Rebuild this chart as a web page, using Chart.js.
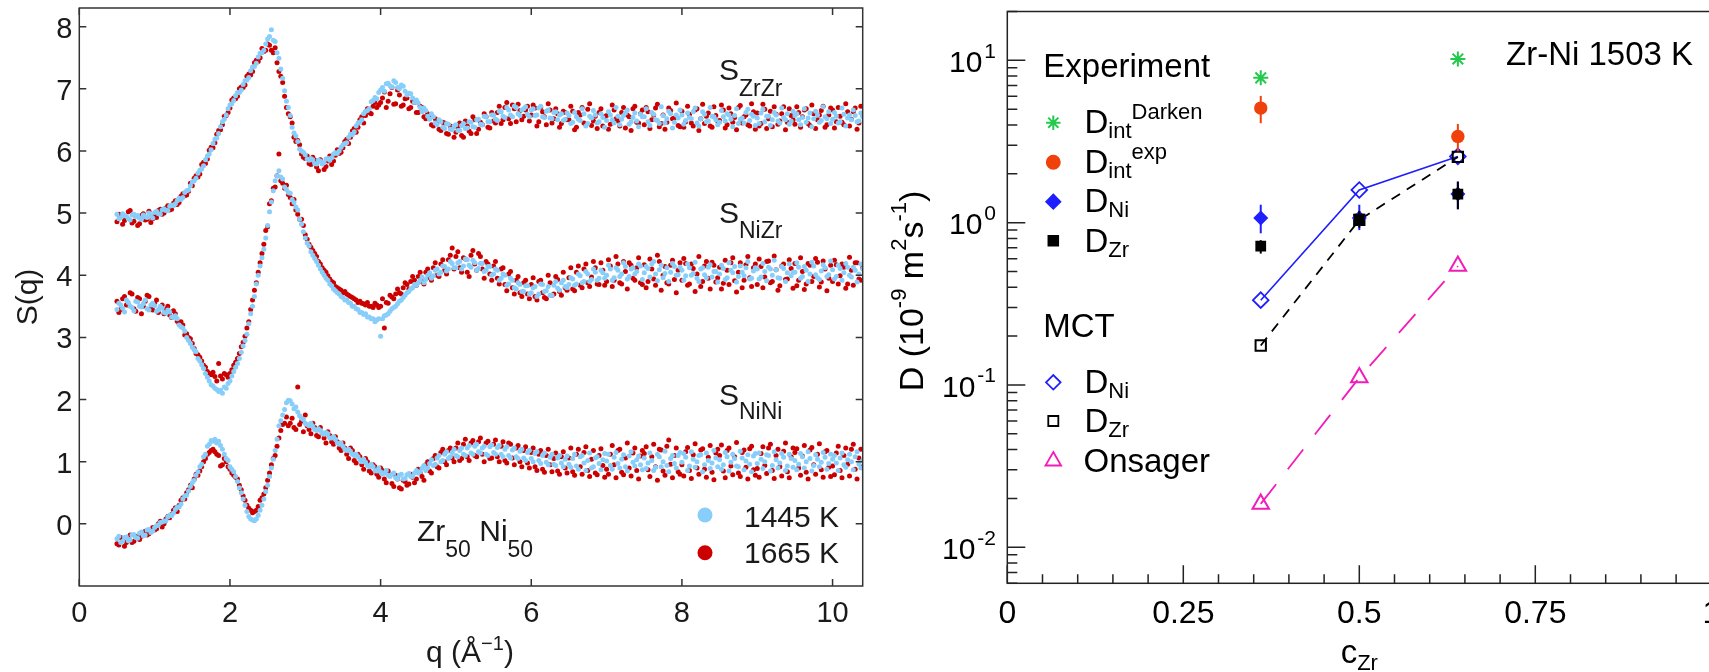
<!DOCTYPE html>
<html>
<head>
<meta charset="utf-8">
<script src="https://cdn.jsdelivr.net/npm/chart.js@4.4.1/dist/chart.umd.min.js"></script>
<style>
  html, body { margin: 0; padding: 0; background: #fff; overflow: hidden; }
  #sq { position: absolute; left: 0; top: 0; }
  #diff { position: absolute; left: 880px; top: 0; }
</style>
</head>
<body>
<canvas id="sq" width="880" height="672"></canvas>
<canvas id="diff" width="860" height="672"></canvas>
<script>
const FONT = '"Liberation Sans", Arial, Helvetica, sans-serif';

// ---- left panel: partial structure factors of Zr50Ni50 ----
// two interleaved q grids (1/Å)
const qValues = [
  0.5,0.55,0.6,0.65,0.7,0.75,0.8,0.85,0.9,0.95,
  1,1.05,1.1,1.15,1.2,1.25,1.3,1.35,1.4,1.45,
  1.5,1.55,1.6,1.65,1.7,1.75,1.8,1.85,1.9,1.95,
  2,2.05,2.1,2.15,2.2,2.25,2.3,2.35,2.4,2.45,
  2.5,2.55,2.6,2.65,2.7,2.75,2.8,2.85,2.9,2.95,
  3,3.05,3.1,3.15,3.2,3.25,3.3,3.35,3.4,3.45,
  3.5,3.55,3.6,3.65,3.7,3.75,3.8,3.85,3.9,3.95,
  4,4.05,4.1,4.15,4.2,4.25,4.3,4.35,4.4,4.45,
  4.5,4.55,4.6,4.65,4.7,4.75,4.8,4.85,4.9,4.95,
  5,5.05,5.1,5.15,5.2,5.25,5.3,5.35,5.4,5.45,
  5.5,5.55,5.6,5.65,5.7,5.75,5.8,5.85,5.9,5.95,
  6,6.05,6.1,6.15,6.2,6.25,6.3,6.35,6.4,6.45,
  6.5,6.55,6.6,6.65,6.7,6.75,6.8,6.85,6.9,6.95,
  7,7.05,7.1,7.15,7.2,7.25,7.3,7.35,7.4,7.45,
  7.5,7.55,7.6,7.65,7.7,7.75,7.8,7.85,7.9,7.95,
  8,8.05,8.1,8.15,8.2,8.25,8.3,8.35,8.4,8.45,
  8.5,8.55,8.6,8.65,8.7,8.75,8.8,8.85,8.9,8.95,
  9,9.05,9.1,9.15,9.2,9.25,9.3,9.35,9.4,9.45,
  9.5,9.55,9.6,9.65,9.7,9.75,9.8,9.85,9.9,9.95,
  10,10.05,10.1,10.15,10.2,10.25,10.3,10.35,10.4
];
const qMid = [
  0.525,0.575,0.625,0.675,0.725,0.775,0.825,0.875,0.925,0.975,
  1.025,1.075,1.125,1.175,1.225,1.275,1.325,1.375,1.425,1.475,
  1.525,1.575,1.625,1.675,1.725,1.775,1.825,1.875,1.925,1.975,
  2.025,2.075,2.125,2.175,2.225,2.275,2.325,2.375,2.425,2.475,
  2.525,2.575,2.625,2.675,2.725,2.775,2.825,2.875,2.925,2.975,
  3.025,3.075,3.125,3.175,3.225,3.275,3.325,3.375,3.425,3.475,
  3.525,3.575,3.625,3.675,3.725,3.775,3.825,3.875,3.925,3.975,
  4.025,4.075,4.125,4.175,4.225,4.275,4.325,4.375,4.425,4.475,
  4.525,4.575,4.625,4.675,4.725,4.775,4.825,4.875,4.925,4.975,
  5.025,5.075,5.125,5.175,5.225,5.275,5.325,5.375,5.425,5.475,
  5.525,5.575,5.625,5.675,5.725,5.775,5.825,5.875,5.925,5.975,
  6.025,6.075,6.125,6.175,6.225,6.275,6.325,6.375,6.425,6.475,
  6.525,6.575,6.625,6.675,6.725,6.775,6.825,6.875,6.925,6.975,
  7.025,7.075,7.125,7.175,7.225,7.275,7.325,7.375,7.425,7.475,
  7.525,7.575,7.625,7.675,7.725,7.775,7.825,7.875,7.925,7.975,
  8.025,8.075,8.125,8.175,8.225,8.275,8.325,8.375,8.425,8.475,
  8.525,8.575,8.625,8.675,8.725,8.775,8.825,8.875,8.925,8.975,
  9.025,9.075,9.125,9.175,9.225,9.275,9.325,9.375,9.425,9.475,
  9.525,9.575,9.625,9.675,9.725,9.775,9.825,9.875,9.925,9.975,
  10.025,10.075,10.125,10.175,10.225,10.275,10.325,10.375
];

const sZrZr1445 = [
  4.98,4.93,4.96,4.91,4.97,4.94,4.92,4.97,4.93,4.96,
  5.01,4.99,5.05,5.04,5.11,5.12,5.20,5.22,5.33,5.37,
  5.50,5.56,5.69,5.76,5.92,6.02,6.19,6.28,6.47,6.58,
  6.74,6.81,6.94,6.98,7.13,7.18,7.35,7.41,7.57,7.62,
  7.80,7.95,7.76,7.49,7.17,6.80,6.57,6.29,6.15,6.00,
  5.94,5.85,5.86,5.79,5.84,5.81,5.88,5.89,5.97,6.00,
  6.10,6.13,6.27,6.31,6.45,6.50,6.64,6.68,6.81,6.84,
  6.98,6.96,7.09,7.03,7.10,7.00,7.04,6.90,6.92,6.78,
  6.77,6.63,6.65,6.51,6.55,6.42,6.47,6.36,6.43,6.34,
  6.42,6.33,6.44,6.37,6.46,6.38,6.51,6.42,6.55,6.47,
  6.58,6.49,6.63,6.54,6.66,6.55,6.70,6.57,6.68,6.59,
  6.66,6.57,6.69,6.55,6.64,6.53,6.62,6.50,6.60,6.51,
  6.57,6.46,6.55,6.49,6.60,6.44,6.53,6.58,6.47,6.54,
  6.49,6.58,6.45,6.56,6.51,6.61,6.43,6.54,6.48,6.59,
  6.55,6.47,6.62,6.50,6.44,6.57,6.52,6.60,6.46,6.53,
  6.58,6.49,6.54,6.63,6.45,6.52,6.59,6.48,6.56,6.50,
  6.46,6.55,6.60,6.51,6.57,6.44,6.53,6.62,6.49,6.56,
  6.53,6.61,6.47,6.56,6.50,6.58,6.45,6.54,6.60,6.48,
  6.57,6.50,6.54,6.46,6.61,6.52,6.58,6.49,6.55,6.63,
  6.51,6.56,6.47,6.59,6.53,6.50,6.57,6.48,6.55
];
const sZrZr1445Mid = [
  4.91,4.99,4.95,4.89,4.98,4.96,4.90,4.94,5.00,4.92,
  5.03,4.98,5.07,5.04,5.13,5.15,5.24,5.25,5.36,5.44,
  5.52,5.64,5.71,5.86,5.95,6.12,6.21,6.39,6.51,6.68,
  6.76,6.89,6.94,7.07,7.14,7.29,7.36,7.51,7.58,7.72,
  7.84,7.78,7.58,7.32,6.97,6.70,6.38,6.24,6.03,5.98,
  5.87,5.88,5.80,5.85,5.79,5.87,5.85,5.95,5.96,6.06,
  6.12,6.22,6.26,6.40,6.46,6.60,6.65,6.79,6.86,6.94,
  7.02,7.08,7.05,7.13,7.02,7.06,6.96,6.93,6.85,6.82,
  6.70,6.69,6.56,6.60,6.45,6.50,6.38,6.44,6.35,6.40,
  6.33,6.41,6.36,6.47,6.39,6.50,6.43,6.56,6.47,6.58,
  6.51,6.64,6.56,6.70,6.58,6.72,6.60,6.66,6.71,6.55,
  6.68,6.58,6.72,6.54,6.66,6.52,6.63,6.58,6.49,6.61,
  6.44,6.62,6.51,6.68,6.40,6.56,6.65,6.45,6.60,6.38,
  6.63,6.50,6.70,6.42,6.57,6.66,6.47,6.61,6.39,6.55,
  6.68,6.41,6.59,6.49,6.71,6.45,6.64,6.37,6.58,6.66,
  6.43,6.61,6.52,6.69,6.40,6.63,6.47,6.70,6.55,6.42,
  6.65,6.48,6.58,6.39,6.68,6.51,6.45,6.67,6.59,6.41,
  6.44,6.67,6.56,6.41,6.62,6.48,6.69,6.50,6.43,6.64,
  6.60,6.42,6.68,6.53,6.39,6.64,6.46,6.71,6.52,6.44,
  6.62,6.45,6.69,6.40,6.58,6.66,6.47,6.61
];
const sZrZr1665 = [
  4.86,4.97,4.88,5.02,4.84,4.95,4.83,4.99,4.90,4.85,
  4.96,5.04,4.98,5.08,5.05,5.16,5.14,5.27,5.28,5.35,
  5.44,5.60,5.63,5.82,5.87,6.06,6.13,6.33,6.42,6.57,
  6.69,6.85,6.88,7.03,7.06,7.24,7.28,7.46,7.50,7.60,
  7.72,7.62,7.66,7.28,7.10,6.70,6.55,6.22,6.17,5.95,
  5.88,5.80,5.90,5.74,5.86,5.70,5.84,5.78,5.93,5.96,
  6.05,6.19,6.22,6.36,6.38,6.55,6.57,6.62,6.72,6.70,
  6.78,6.95,6.80,7.02,6.76,6.90,6.74,6.85,6.70,6.78,
  6.62,6.70,6.52,6.58,6.40,6.49,6.33,6.45,6.27,6.38,
  6.30,6.45,6.22,6.40,6.28,6.50,6.35,6.42,6.55,6.37,
  6.48,6.62,6.44,6.70,6.52,6.74,6.47,6.65,6.56,6.72,
  6.58,6.69,6.47,6.63,6.42,6.66,6.52,6.60,6.44,6.62,
  6.50,6.64,6.38,6.58,6.45,6.67,6.41,6.56,6.62,6.40,
  6.57,6.43,6.66,6.48,6.62,6.37,6.55,6.68,6.46,6.60,
  6.42,6.63,6.50,6.69,6.39,6.58,6.46,6.65,6.53,6.41,
  6.64,6.47,6.59,6.40,6.68,6.52,6.44,6.61,6.38,6.57,
  6.49,6.66,6.42,6.60,6.54,6.70,6.45,6.58,6.40,6.63,
  6.61,6.44,6.67,6.52,6.39,6.59,6.48,6.71,6.46,6.57,
  6.43,6.62,6.55,6.68,6.41,6.60,6.50,6.65,6.38,6.58,
  6.66,6.47,6.56,6.42,6.63,6.51,6.69,6.45,6.59
];
const sZrZr1665Mid = [
  4.98,4.82,4.93,5.04,4.87,4.80,4.96,4.89,5.03,4.91,
  4.93,5.06,5.00,5.12,5.06,5.20,5.17,5.31,5.29,5.48,
  5.56,5.58,5.78,5.80,6.01,6.05,6.27,6.34,6.56,6.62,
  6.82,6.84,7.00,7.02,7.20,7.22,7.42,7.44,7.65,7.62,
  7.70,7.58,7.42,7.20,6.88,6.60,6.45,6.15,6.10,5.90,
  5.92,5.78,5.85,5.68,5.80,5.75,5.92,5.84,6.02,5.98,
  6.15,6.12,6.32,6.30,6.50,6.45,6.68,6.60,6.78,6.74,
  6.85,6.70,6.92,6.75,6.98,6.72,6.84,6.68,6.80,6.62,
  6.72,6.55,6.60,6.42,6.52,6.35,6.46,6.28,6.40,6.22,
  6.38,6.25,6.48,6.32,6.55,6.28,6.46,6.60,6.38,6.62,
  6.45,6.72,6.50,6.78,6.44,6.68,6.75,6.50,6.66,6.48,
  6.74,6.40,6.70,6.55,6.76,6.45,6.68,6.38,6.64,6.50,
  6.72,6.34,6.62,6.70,6.42,6.76,6.48,6.36,6.68,6.55,
  6.35,6.74,6.52,6.40,6.70,6.58,6.33,6.72,6.45,6.66,
  6.70,6.36,6.58,6.75,6.44,6.35,6.69,6.52,6.77,6.39,
  6.38,6.72,6.45,6.66,6.33,6.75,6.56,6.40,6.71,6.48,
  6.74,6.37,6.69,6.46,6.34,6.73,6.55,6.42,6.76,6.35,
  6.40,6.75,6.36,6.64,6.71,6.43,6.60,6.34,6.68,6.50,
  6.71,6.38,6.66,6.44,6.74,6.36,6.58,6.72,6.42,6.69,
  6.37,6.70,6.46,6.76,6.40,6.63,6.35,6.72
];
const sNiZr1445 = [
  3.45,3.52,3.41,3.56,3.48,3.58,3.50,3.54,3.46,3.52,
  3.51,3.44,3.47,3.39,3.41,3.32,3.30,3.17,3.10,2.95,
  2.84,2.77,2.62,2.50,2.36,2.24,2.18,2.13,2.10,2.18,
  2.30,2.45,2.58,2.76,2.95,3.22,3.50,3.86,4.15,4.42,
  4.80,5.18,5.52,5.68,5.55,5.38,5.32,5.17,5.05,4.82,
  4.60,4.47,4.32,4.22,4.10,4.00,3.92,3.83,3.75,3.70,
  3.64,3.60,3.55,3.50,3.45,3.40,3.38,3.33,3.30,3.28,
  3.02,3.35,3.38,3.46,3.50,3.58,3.64,3.72,3.78,3.85,
  3.88,3.97,3.93,4.04,3.99,4.10,4.05,4.14,4.10,4.19,
  4.12,4.22,4.15,4.25,4.13,4.20,4.11,4.19,4.08,4.14,
  4.02,4.08,3.95,4.00,3.86,3.92,3.78,3.85,3.74,3.83,
  3.72,3.82,3.70,3.85,3.75,3.68,3.84,3.79,3.88,3.82,
  3.85,3.94,3.86,3.99,3.90,4.02,3.93,4.05,3.95,4.04,
  4.00,4.10,3.96,4.08,4.02,4.14,3.98,4.12,4.06,4.15,
  4.04,4.11,4.18,4.02,4.09,3.96,4.12,4.05,4.14,4.01,
  4.08,3.99,4.12,4.03,3.95,4.10,4.01,4.13,3.97,4.06,
  4.02,4.11,3.96,4.08,4.14,3.98,4.05,4.12,3.94,4.07,
  4.10,3.97,4.06,4.13,4.00,4.09,3.95,4.11,4.04,3.99,
  4.05,4.13,3.98,4.08,4.02,4.15,3.96,4.07,4.12,4.01,
  4.09,3.98,4.11,4.04,4.13,3.97,4.08,4.02,4.10
];
const sNiZr1445Mid = [
  3.55,3.47,3.60,3.50,3.43,3.57,3.49,3.60,3.44,3.55,
  3.42,3.50,3.40,3.44,3.33,3.35,3.20,3.15,3.00,2.90,
  2.80,2.66,2.56,2.42,2.30,2.22,2.16,2.15,2.20,2.26,
  2.38,2.52,2.66,2.86,3.05,3.38,3.66,4.00,4.28,4.60,
  5.02,5.36,5.60,5.58,5.42,5.33,5.22,5.10,4.90,4.70,
  4.52,4.38,4.27,4.16,4.05,3.95,3.86,3.78,3.72,3.66,
  3.60,3.56,3.50,3.46,3.40,3.37,3.33,3.30,3.25,3.30,
  3.30,3.36,3.42,3.48,3.54,3.60,3.68,3.74,3.80,3.84,
  3.92,3.88,4.00,3.95,4.08,4.02,4.15,4.07,4.22,4.12,
  4.20,4.10,4.26,4.16,4.24,4.08,4.19,4.06,4.14,4.00,
  4.10,3.92,4.02,3.84,3.95,3.80,3.88,3.74,3.83,3.70,
  3.80,3.66,3.86,3.74,3.82,3.68,3.90,3.76,3.92,3.80,
  3.96,3.84,4.02,3.88,4.06,3.90,4.10,3.92,4.08,3.95,
  4.16,3.92,4.12,3.98,4.20,3.94,4.10,4.02,4.18,3.93,
  4.14,3.97,4.22,3.91,4.16,4.03,3.90,4.19,4.00,4.13,
  3.92,4.18,4.00,4.21,3.90,4.12,3.96,4.17,4.06,3.89,
  4.16,3.93,4.20,4.04,3.89,4.15,3.99,4.22,3.95,4.12,
  3.94,4.19,3.91,4.10,4.24,3.96,4.14,3.90,4.18,4.05,
  4.20,3.95,4.14,3.90,4.21,4.01,3.93,4.17,3.98,4.23,
  3.94,4.16,3.92,4.19,4.00,4.13,3.89,4.18
];
const sNiZr1665 = [
  3.58,3.45,3.66,3.52,3.70,3.42,3.62,3.50,3.68,3.47,
  3.55,3.40,3.52,3.45,3.36,3.43,3.26,3.25,3.04,3.00,
  2.90,2.74,2.68,2.55,2.45,2.40,2.37,2.58,2.33,2.40,
  2.42,2.55,2.66,2.85,3.02,3.25,3.60,3.88,4.20,4.50,
  4.78,5.20,5.42,5.95,5.48,5.45,5.25,5.22,4.98,4.90,
  4.65,4.50,4.40,4.30,4.18,4.08,3.99,3.90,3.82,3.78,
  3.72,3.70,3.66,3.62,3.56,3.55,3.52,3.50,3.48,3.52,
  3.50,3.15,3.55,3.65,3.70,3.72,3.80,3.85,3.90,3.92,
  3.98,3.90,4.05,3.96,4.12,4.00,4.18,4.08,4.25,4.44,
  4.30,4.12,4.28,4.05,4.32,4.18,4.35,4.10,4.22,4.02,
  4.15,3.95,4.10,3.85,4.02,3.80,3.92,3.72,3.88,3.70,
  3.85,3.66,3.90,3.72,3.62,3.88,3.70,3.93,3.68,3.80,
  3.96,3.78,4.05,3.84,4.10,3.88,3.97,4.12,3.85,4.08,
  3.90,4.15,3.92,4.18,3.86,4.06,4.20,3.95,4.12,3.88,
  4.17,3.90,4.10,3.84,4.22,4.00,3.88,4.16,3.93,4.08,
  3.92,4.19,3.86,4.11,4.02,3.82,4.15,3.95,4.21,3.89,
  4.13,3.87,4.08,4.20,3.91,4.05,3.80,4.17,3.96,4.12,
  3.85,4.14,3.97,4.23,3.90,4.09,3.83,4.18,3.94,4.11,
  4.19,3.92,4.06,3.86,4.16,3.98,4.21,3.89,4.10,3.95,
  3.90,4.17,3.99,4.13,3.86,4.08,4.20,3.94,4.12
];
const sNiZr1665Mid = [
  3.40,3.62,3.52,3.72,3.46,3.64,3.38,3.58,3.66,3.44,
  3.60,3.48,3.38,3.50,3.32,3.38,3.22,3.20,3.06,2.98,
  2.82,2.72,2.62,2.52,2.42,2.44,2.30,2.38,2.42,2.36,
  2.48,2.60,2.74,2.92,3.15,3.45,3.76,4.05,4.35,4.72,
  5.15,5.40,5.60,5.52,5.40,5.30,5.15,5.05,4.90,4.80,
  4.58,4.45,4.35,4.22,4.12,4.05,3.94,3.88,3.80,3.76,
  3.74,3.68,3.64,3.60,3.58,3.54,3.56,3.50,3.55,3.48,
  3.62,3.56,3.68,3.62,3.78,3.70,3.88,3.78,3.98,3.84,
  4.05,3.86,4.10,3.92,4.20,3.98,4.25,4.02,4.32,4.10,
  4.38,4.05,4.26,3.98,4.40,4.08,4.30,3.95,4.18,3.92,
  4.22,3.86,4.12,3.75,4.06,3.70,3.98,3.66,3.92,3.62,
  3.96,3.60,3.92,3.64,4.00,3.68,3.98,3.74,4.05,3.76,
  4.12,3.75,4.15,3.80,4.18,3.82,4.22,3.86,4.20,3.84,
  4.25,3.82,4.30,3.88,4.22,3.78,4.16,3.92,4.28,3.85,
  3.80,4.26,3.94,4.32,3.76,4.14,3.86,4.24,3.72,4.20,
  4.27,3.84,4.18,3.74,4.30,3.90,4.22,3.78,4.16,3.96,
  3.78,4.24,3.85,4.28,3.73,4.20,3.92,4.30,3.82,4.18,
  4.26,3.80,4.22,3.88,4.31,3.76,4.15,3.93,4.25,3.79,
  3.83,4.28,3.77,4.19,3.90,4.27,3.81,4.23,3.75,4.16,
  4.24,3.86,4.18,3.79,4.29,3.84,4.20,3.92
];
const sNiNi1445 = [
  -0.24,-0.30,-0.22,-0.27,-0.18,-0.22,-0.15,-0.19,-0.10,-0.14,
  -0.06,-0.02,0.03,0.05,0.14,0.17,0.27,0.32,0.45,0.53,
  0.66,0.78,0.92,1.08,1.25,1.34,1.36,1.33,1.20,1.05,
  0.92,0.84,0.68,0.50,0.30,0.12,0.06,0.08,0.22,0.40,
  0.62,0.90,1.18,1.58,1.75,1.95,1.98,1.85,1.80,1.70,
  1.62,1.58,1.57,1.50,1.50,1.44,1.45,1.38,1.36,1.28,
  1.25,1.18,1.17,1.10,1.08,1.00,0.99,0.92,0.92,0.85,
  0.84,0.82,0.78,0.80,0.74,0.78,0.72,0.79,0.76,0.82,
  0.82,0.90,0.86,0.97,0.94,1.06,1.00,1.12,1.05,1.15,
  1.10,1.18,1.12,1.22,1.14,1.25,1.16,1.22,1.12,1.24,
  1.15,1.23,1.12,1.20,1.10,1.19,1.08,1.17,1.06,1.15,
  1.05,1.13,1.02,1.10,0.99,1.07,0.96,1.06,0.98,1.04,
  0.96,1.05,0.93,1.08,0.98,1.02,0.90,1.06,0.97,1.03,
  1.01,0.94,1.07,0.97,1.04,0.92,1.09,0.99,1.03,0.95,
  1.06,0.98,1.02,0.91,1.08,1.00,0.94,1.05,0.97,1.10,
  0.99,1.07,0.93,1.04,1.00,1.11,0.95,1.02,0.98,1.06,
  1.03,0.95,1.08,0.99,1.05,0.92,1.06,1.01,0.96,1.09,
  0.97,1.04,1.00,1.10,0.94,1.03,0.98,1.07,0.93,1.05,
  1.02,0.96,1.08,1.00,1.05,0.94,1.04,0.99,1.07,0.97,
  1.04,0.98,1.06,0.95,1.03,1.00,1.08,0.96,1.02
];
const sNiNi1445Mid = [
  -0.20,-0.28,-0.21,-0.26,-0.17,-0.23,-0.13,-0.18,-0.09,-0.12,
  -0.03,0.02,0.04,0.11,0.13,0.23,0.27,0.40,0.46,0.60,
  0.70,0.84,0.96,1.12,1.28,1.33,1.30,1.26,1.12,1.02,
  0.88,0.76,0.58,0.40,0.20,0.08,0.05,0.14,0.30,0.52,
  0.76,1.04,1.36,1.66,1.84,1.99,1.93,1.88,1.74,1.68,
  1.60,1.62,1.52,1.53,1.46,1.47,1.38,1.40,1.30,1.30,
  1.20,1.20,1.12,1.12,1.03,1.04,0.94,0.96,0.86,0.90,
  0.80,0.86,0.76,0.82,0.72,0.80,0.73,0.81,0.76,0.86,
  0.84,0.94,0.90,1.03,0.96,1.10,1.02,1.16,1.08,1.20,
  1.08,1.22,1.10,1.26,1.12,1.28,1.14,1.25,1.10,1.27,
  1.12,1.26,1.08,1.24,1.06,1.22,1.05,1.20,1.02,1.18,
  1.00,1.16,0.97,1.14,0.95,1.12,0.94,1.10,0.92,1.09,
  0.91,1.12,0.88,1.10,0.86,1.14,0.92,1.08,0.87,1.13,
  1.12,0.88,1.15,0.90,1.11,0.85,1.16,0.93,1.09,0.87,
  0.89,1.14,0.86,1.12,0.92,1.17,0.84,1.10,0.90,1.15,
  1.13,0.86,1.16,0.91,1.10,0.84,1.14,0.89,1.18,0.92,
  0.88,1.15,0.85,1.12,0.93,1.17,0.87,1.11,0.84,1.13,
  1.14,0.89,1.11,0.85,1.16,0.90,1.13,0.86,1.12,0.91,
  0.87,1.13,0.90,1.16,0.85,1.11,0.92,1.15,0.88,1.12,
  1.10,0.86,1.14,0.91,1.12,0.87,1.16,0.90
];
const sNiNi1665 = [
  -0.32,-0.22,-0.36,-0.26,-0.30,-0.20,-0.25,-0.16,-0.18,-0.12,
  -0.10,0.00,-0.05,0.08,0.10,0.22,0.20,0.38,0.40,0.55,
  0.58,0.80,0.85,1.00,1.12,1.18,1.16,1.10,0.95,1.00,
  0.88,0.78,0.72,0.55,0.38,0.25,0.18,0.22,0.38,0.48,
  0.70,0.95,1.10,1.38,1.60,1.72,1.62,1.55,2.20,1.65,
  1.75,1.52,1.62,1.42,1.55,1.38,1.48,1.32,1.40,1.22,
  1.30,1.12,1.22,1.02,1.12,0.95,1.05,0.85,0.95,0.80,
  0.90,0.72,0.85,0.65,0.78,0.58,0.70,0.62,0.80,0.66,
  0.88,0.76,0.95,0.85,1.05,0.92,1.15,1.00,1.18,1.06,
  1.22,1.02,1.28,1.08,1.30,1.10,1.32,1.12,1.30,1.05,
  1.28,1.08,1.25,1.02,1.30,1.06,1.22,1.00,1.18,0.98,
  1.15,0.92,1.12,0.88,1.10,0.95,1.05,0.85,1.08,0.90,
  1.06,0.84,1.12,0.92,1.15,0.86,1.04,0.82,1.10,0.94,
  0.88,1.12,0.95,1.18,0.83,1.06,0.90,1.14,0.86,1.09,
  1.13,0.87,1.08,0.92,1.20,0.85,1.25,0.96,1.10,0.84,
  0.95,1.16,0.86,1.11,0.90,1.19,0.88,1.07,0.83,1.14,
  1.10,0.85,1.18,0.93,1.08,0.82,1.15,0.91,1.21,0.87,
  0.89,1.13,0.94,1.22,0.86,1.10,0.92,1.17,0.84,1.08,
  1.15,0.90,1.09,0.83,1.19,0.95,1.12,0.87,1.16,0.91,
  0.93,1.14,0.86,1.10,0.96,1.20,0.88,1.06,0.92
];
const sNiNi1665Mid = [
  -0.34,-0.24,-0.30,-0.18,-0.28,-0.22,-0.20,-0.12,-0.16,-0.06,
  -0.08,0.04,0.00,0.12,0.15,0.26,0.30,0.42,0.50,0.62,
  0.72,0.78,0.92,1.05,1.15,1.20,1.12,0.93,1.05,0.92,
  0.82,0.75,0.62,0.45,0.30,0.22,0.20,0.28,0.42,0.58,
  0.82,1.05,1.25,1.50,1.62,1.58,1.70,1.52,1.60,1.48,
  1.58,1.45,1.55,1.40,1.46,1.30,1.42,1.28,1.32,1.18,
  1.22,1.05,1.18,0.98,1.08,0.88,1.00,0.82,0.92,0.75,
  0.86,0.66,0.80,0.60,0.72,0.56,0.68,0.64,0.75,0.72,
  0.82,0.70,1.00,0.82,1.10,0.90,1.20,0.95,1.22,1.00,
  1.30,1.05,1.36,1.02,1.34,1.08,1.38,1.00,1.33,1.06,
  1.35,1.00,1.32,0.98,1.28,0.95,1.26,0.92,1.24,0.90,
  1.22,0.86,1.18,0.83,1.20,0.84,1.14,0.80,1.16,0.82,
  1.22,0.78,1.20,0.80,1.24,0.76,1.18,0.79,1.21,0.75,
  0.80,1.26,0.74,1.20,0.79,1.30,0.77,1.22,0.72,1.18,
  1.24,0.76,1.28,0.70,1.19,0.78,1.35,0.74,1.22,0.80,
  0.77,1.23,0.73,1.29,0.80,1.21,0.75,1.26,0.71,1.20,
  1.27,0.74,1.22,0.79,1.31,0.76,1.19,0.72,1.25,0.78,
  0.75,1.24,0.81,1.28,0.73,1.20,0.77,1.30,0.74,1.22,
  1.21,0.78,1.26,0.72,1.23,0.80,1.29,0.75,1.18,0.76,
  0.79,1.25,0.74,1.22,0.77,1.28,0.72,1.20
];

const qTicks = [0, 2, 4, 6, 8, 10];
const sTicks = [0, 1, 2, 3, 4, 5, 6, 7, 8];

// ---- right panel: diffusion coefficients vs Zr concentration, Zr-Ni 1503 K ----
const cDarken = [0.36, 0.64];
const dDarken = [7.8, 10.2];
const cIntExp = [0.36, 0.64];
const dIntExp = [5.08, 3.40];
const dIntExpLow = [4.10, 2.75];
const dIntExpHigh = [6.04, 4.06];
const cExp = [0.36, 0.5, 0.64];
const dNiExp = [1.07, 1.07, 1.50];
const dNiExpLow = [0.86, 0.90, 1.21];
const dNiExpHigh = [1.29, 1.29, 1.79];
const dZrExp = [0.716, 1.05, 1.50];
const dZrExpLow = [0.645, 0.93, 1.21];
const dZrExpHigh = [0.78, 1.18, 1.79];
const cMct = [0.36, 0.5, 0.64];
const dNiMct = [0.333, 1.59, 2.56];
const dZrMct = [0.175, 1.04, 2.54];
const dOnsager = [0.0185, 0.111, 0.541];
const cTicks = [0, 0.25, 0.5, 0.75, 1];
const dTicks = [0.01, 0.1, 1, 10];
const dTickExp = ['-2', '-1', '0', '1'];

const BLUE_L = '#87cefa';
const RED_D = '#cc0000';
const GREEN = '#22c94a';
const ORANGE = '#f0400c';
const BLUE = '#1e1eff';
const MAGENTA = '#f21cb8';
const INK = '#1a1a1a';

function pts(xs, ys) {
  return xs.map((x, i) => ({ x: x, y: ys[i] }));
}

// text with sub/superscript runs laid out left to right
function drawRich(ctx, x, y, parts, align) {
  let w = 0;
  parts.forEach(p => {
    ctx.font = p.size + 'px ' + FONT;
    p.w = ctx.measureText(p.text).width;
    w += p.w;
  });
  let cx = x;
  if (align === 'center') cx = x - w / 2;
  if (align === 'right') cx = x - w;
  ctx.textAlign = 'left';
  ctx.textBaseline = 'alphabetic';
  parts.forEach(p => {
    ctx.font = p.size + 'px ' + FONT;
    ctx.fillText(p.text, cx, y + (p.dy || 0));
    cx += p.w;
  });
}

function drawRotated(ctx, x, y, parts) {
  ctx.save();
  ctx.translate(x, y);
  ctx.rotate(-Math.PI / 2);
  drawRich(ctx, 0, 0, parts, 'center');
  ctx.restore();
}

const sqDecor = {
  id: 'sqDecor',
  afterDraw(chart) {
    const { ctx, chartArea: a, scales: { x, y } } = chart;
    ctx.save();
    ctx.strokeStyle = '#333';
    ctx.lineWidth = 1.5;
    ctx.strokeRect(a.left, a.top, a.right - a.left, a.bottom - a.top);
    ctx.beginPath();
    qTicks.forEach(v => {
      const px = x.getPixelForValue(v);
      ctx.moveTo(px, a.bottom); ctx.lineTo(px, a.bottom - 7);
      ctx.moveTo(px, a.top); ctx.lineTo(px, a.top + 7);
    });
    sTicks.forEach(v => {
      const py = y.getPixelForValue(v);
      ctx.moveTo(a.left, py); ctx.lineTo(a.left + 7, py);
      ctx.moveTo(a.right, py); ctx.lineTo(a.right - 7, py);
    });
    ctx.stroke();

    ctx.fillStyle = INK;
    ctx.font = '29px ' + FONT;
    ctx.textBaseline = 'alphabetic';
    ctx.textAlign = 'center';
    qTicks.forEach(v => ctx.fillText(String(v), x.getPixelForValue(v), 621.5));
    ctx.textAlign = 'right';
    sTicks.forEach(v => ctx.fillText(String(v), a.left - 7, y.getPixelForValue(v) + 11));

    drawRotated(ctx, 37, 297, [{ text: 'S(q)', size: 30 }]);
    drawRich(ctx, 470, 661.5, [
      { text: 'q (Å', size: 30 },
      { text: '\u22121', size: 20, dy: -12 },
      { text: ')', size: 30 }
    ], 'center');

    drawRich(ctx, 719, 80, [{ text: 'S', size: 30 }, { text: 'ZrZr', size: 23, dy: 16 }]);
    drawRich(ctx, 719, 222.7, [{ text: 'S', size: 30 }, { text: 'NiZr', size: 23, dy: 15.5 }]);
    drawRich(ctx, 719, 405, [{ text: 'S', size: 30 }, { text: 'NiNi', size: 23, dy: 14 }]);
    drawRich(ctx, 417, 540.7, [
      { text: 'Zr', size: 30 }, { text: '50', size: 23, dy: 16 },
      { text: ' Ni', size: 30 }, { text: '50', size: 23, dy: 16 }
    ]);

    // legend
    ctx.fillStyle = BLUE_L;
    ctx.beginPath(); ctx.arc(705, 515, 7.5, 0, Math.PI * 2); ctx.fill();
    ctx.fillStyle = RED_D;
    ctx.beginPath(); ctx.arc(705, 552.7, 7.5, 0, Math.PI * 2); ctx.fill();
    ctx.fillStyle = INK;
    ctx.font = '30px ' + FONT;
    ctx.textAlign = 'left';
    ctx.fillText('1445 K', 744, 526.7);
    ctx.fillText('1665 K', 744, 563.3);
    ctx.restore();
  }
};

function sqSet(ys, ysMid, color) {
  return {
    data: pts(qValues, ys).concat(pts(qMid, ysMid)),
    pointRadius: 2.5,
    pointBorderWidth: 0,
    backgroundColor: color,
    borderColor: color
  };
}

new Chart(document.getElementById('sq'), {
  type: 'scatter',
  data: {
    // first datasets are painted last, so 1445 K sits on top
    datasets: [
      sqSet(sZrZr1445, sZrZr1445Mid, BLUE_L),
      sqSet(sNiZr1445, sNiZr1445Mid, BLUE_L),
      sqSet(sNiNi1445, sNiNi1445Mid, BLUE_L),
      sqSet(sZrZr1665, sZrZr1665Mid, RED_D),
      sqSet(sNiZr1665, sNiZr1665Mid, RED_D),
      sqSet(sNiNi1665, sNiNi1665Mid, RED_D)
    ]
  },
  options: {
    responsive: false,
    animation: false,
    events: [],
    layout: { padding: { left: 0, top: 8, right: 17.3, bottom: 0 } },
    plugins: { legend: { display: false }, tooltip: { enabled: false } },
    scales: {
      x: {
        type: 'linear', min: 0, max: 10.4,
        grid: { display: false }, border: { display: false }, ticks: { display: false },
        afterFit(s) { s.height = 86; }
      },
      y: {
        type: 'linear', min: -1, max: 8.3,
        grid: { display: false }, border: { display: false }, ticks: { display: false },
        afterFit(s) { s.width = 79.3; }
      }
    }
  },
  plugins: [sqDecor]
});

// vertical error bars, painted just under each dataset's own markers
const errorBars = {
  id: 'errorBars',
  beforeDatasetDraw(chart, args) {
    const ds = chart.data.datasets[args.index];
    if (!ds.errLow) return;
    const { ctx, scales: { x, y } } = chart;
    ctx.save();
    ctx.strokeStyle = ds.borderColor;
    ctx.lineWidth = 2;
    ds.data.forEach((p, i) => {
      const px = x.getPixelForValue(p.x);
      ctx.beginPath();
      ctx.moveTo(px, y.getPixelForValue(ds.errLow[i]));
      ctx.lineTo(px, y.getPixelForValue(ds.errHigh[i]));
      ctx.stroke();
    });
    ctx.restore();
  }
};

function legendMark(ctx, style, color, filled, radius, x, y) {
  ctx.save();
  ctx.strokeStyle = color;
  ctx.fillStyle = filled ? color : 'rgba(0,0,0,0)';
  ctx.lineWidth = style === 'star' ? 2 : (filled ? 0 : 1.8);
  Chart.helpers.drawPoint(ctx, { pointStyle: style, radius: radius, rotation: 0, borderWidth: ctx.lineWidth }, x, y);
  ctx.restore();
}

const diffDecor = {
  id: 'diffDecor',
  afterDraw(chart) {
    const { ctx, chartArea: a, scales: { x, y } } = chart;
    ctx.save();
    ctx.strokeStyle = '#222';
    ctx.lineWidth = 1.5;
    ctx.strokeRect(a.left, a.top, a.right - a.left, a.bottom - a.top);

    ctx.beginPath();
    // log axis: decades and in-between minors
    for (let e = -3; e <= 1; e++) {
      for (let m = 1; m <= 9; m++) {
        const v = m * Math.pow(10, e);
        if (v < y.min || v > y.max) continue;
        const py = y.getPixelForValue(v);
        ctx.moveTo(a.left, py);
        ctx.lineTo(a.left + (m === 1 ? 18 : 10), py);
      }
    }
    for (let k = 0; k <= 20; k++) {
      const px = x.getPixelForValue(k * 0.05);
      ctx.moveTo(px, a.bottom);
      ctx.lineTo(px, a.bottom - (k % 5 === 0 ? 18 : 9));
    }
    ctx.stroke();

    ctx.fillStyle = '#000';
    ctx.textBaseline = 'alphabetic';
    ctx.font = '32px ' + FONT;
    ctx.textAlign = 'center';
    cTicks.forEach(v => ctx.fillText(String(v), x.getPixelForValue(v), 622.7));

    dTicks.forEach((v, i) => {
      const py = y.getPixelForValue(v);
      ctx.font = '21px ' + FONT;
      const ew = ctx.measureText(dTickExp[i]).width;
      ctx.textAlign = 'right';
      ctx.fillText(dTickExp[i], 116, py - 2.5);
      ctx.font = '30px ' + FONT;
      ctx.fillText('10', 116 - ew - 2, py + 11.7);
    });

    drawRotated(ctx, 43, 291, [
      { text: 'D (10', size: 34 }, { text: '-9', size: 22, dy: -17 },
      { text: ' m', size: 34 }, { text: '2', size: 22, dy: -17 },
      { text: 's', size: 34 }, { text: '-1', size: 22, dy: -17 },
      { text: ')', size: 34 }
    ]);
    drawRich(ctx, 479.3, 663, [{ text: 'c', size: 33 }, { text: 'Zr', size: 22, dy: 7 }], 'center');

    // legend
    const mx = 173.3, tx = 204.5;
    ctx.fillStyle = '#000';
    ctx.font = '33px ' + FONT;
    ctx.textAlign = 'left';
    ctx.fillText('Experiment', 163.3, 76.7);
    ctx.fillText('MCT', 163.3, 336.7);
    ctx.fillText('Zr-Ni 1503 K', 626, 65);

    legendMark(ctx, 'star', GREEN, true, 7.2, mx, 122.7);
    legendMark(ctx, 'circle', ORANGE, true, 6.7, mx, 162.3);
    legendMark(ctx, 'rectRot', BLUE, true, 7.3, mx, 201.7);
    legendMark(ctx, 'rect', '#000', true, 7.1, mx, 240.7);
    legendMark(ctx, 'rectRot', BLUE, false, 7.3, mx, 382.3);
    legendMark(ctx, 'rect', '#000', false, 7.1, mx, 421);
    legendMark(ctx, 'triangle', MAGENTA, false, 9, mx, 461);

    ctx.fillStyle = '#000';
    drawRich(ctx, tx, 133.3, [{ text: 'D', size: 33 }, { text: 'int', size: 22, dy: 4.5 }, { text: 'Darken', size: 22, dy: -14 }]);
    drawRich(ctx, tx, 173.3, [{ text: 'D', size: 33 }, { text: 'int', size: 22, dy: 5 }, { text: 'exp', size: 22, dy: -14 }]);
    drawRich(ctx, tx, 212.3, [{ text: 'D', size: 33 }, { text: 'Ni', size: 22, dy: 5 }]);
    drawRich(ctx, tx, 251.7, [{ text: 'D', size: 33 }, { text: 'Zr', size: 22, dy: 5 }]);
    drawRich(ctx, tx, 393.3, [{ text: 'D', size: 33 }, { text: 'Ni', size: 22, dy: 5 }]);
    drawRich(ctx, tx, 431.7, [{ text: 'D', size: 33 }, { text: 'Zr', size: 22, dy: 5 }]);
    drawRich(ctx, tx - 1, 471.7, [{ text: 'Onsager', size: 33 }]);
    ctx.restore();
  }
};

new Chart(document.getElementById('diff'), {
  type: 'scatter',
  data: {
    datasets: [
      {
        label: 'D_int Darken', data: pts(cDarken, dDarken),
        pointStyle: 'star', pointRadius: 7.5, pointBorderWidth: 2,
        borderColor: GREEN, backgroundColor: GREEN
      },
      {
        label: 'D_int exp', data: pts(cIntExp, dIntExp), errLow: dIntExpLow, errHigh: dIntExpHigh,
        pointStyle: 'circle', pointRadius: 6.7, pointBorderWidth: 0,
        borderColor: ORANGE, backgroundColor: ORANGE
      },
      {
        label: 'D_Zr exp', data: pts(cExp, dZrExp), errLow: dZrExpLow, errHigh: dZrExpHigh,
        pointStyle: 'rect', pointRadius: 7.6, pointBorderWidth: 0,
        borderColor: '#000', backgroundColor: '#000'
      },
      {
        label: 'D_Ni exp', data: pts(cExp, dNiExp), errLow: dNiExpLow, errHigh: dNiExpHigh,
        pointStyle: 'rectRot', pointRadius: 7.5, pointBorderWidth: 0,
        borderColor: BLUE, backgroundColor: BLUE
      },
      {
        label: 'D_Zr MCT', data: pts(cMct, dZrMct), showLine: true,
        borderColor: '#000', borderWidth: 1.8, borderDash: [10, 8],
        pointStyle: 'rect', pointRadius: 7.3, pointBorderWidth: 2,
        pointBackgroundColor: 'rgba(0,0,0,0)', backgroundColor: 'rgba(0,0,0,0)'
      },
      {
        label: 'D_Ni MCT', data: pts(cMct, dNiMct), showLine: true,
        borderColor: BLUE, borderWidth: 1.6,
        pointStyle: 'rectRot', pointRadius: 7.8, pointBorderWidth: 1.8,
        pointBackgroundColor: 'rgba(0,0,0,0)', backgroundColor: 'rgba(0,0,0,0)'
      },
      {
        label: 'Onsager', data: pts(cMct, dOnsager), showLine: true,
        borderColor: MAGENTA, borderWidth: 1.8, borderDash: [25, 19],
        pointStyle: 'triangle', pointRadius: 9.5, pointBorderWidth: 2,
        pointBackgroundColor: 'rgba(0,0,0,0)', backgroundColor: 'rgba(0,0,0,0)'
      }
    ]
  },
  options: {
    responsive: false,
    animation: false,
    events: [],
    layout: { padding: { left: 0, top: 6.7, right: 28.7, bottom: 0 } },
    plugins: { legend: { display: false }, tooltip: { enabled: false } },
    scales: {
      x: {
        type: 'linear', min: 0, max: 1,
        grid: { display: false }, border: { display: false }, ticks: { display: false },
        afterFit(s) { s.height = 88.7; }
      },
      y: {
        type: 'logarithmic', min: 0.006, max: 20,
        grid: { display: false }, border: { display: false }, ticks: { display: false },
        afterFit(s) { s.width = 127.3; }
      }
    }
  },
  plugins: [errorBars, diffDecor]
});
</script>
</body>
</html>
